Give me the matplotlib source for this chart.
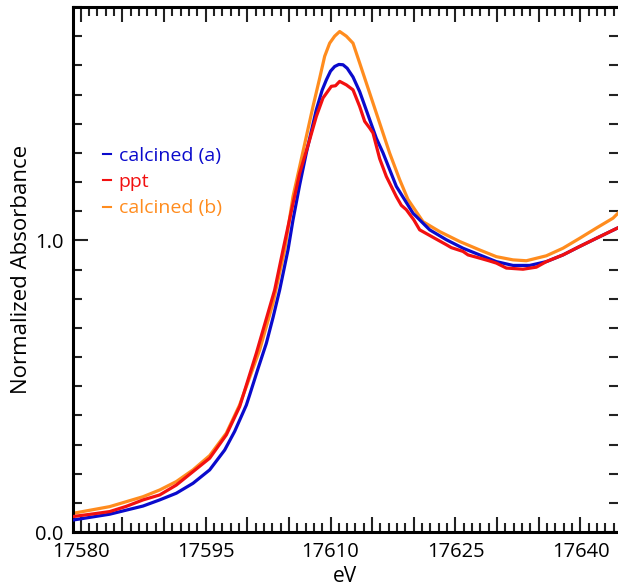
import matplotlib.pyplot as plt
from matplotlib.ticker import MultipleLocator, FuncFormatter

plt.rcParams['font.family'] = ['Open Sans', 'DejaVu Sans']

# calcined (a)
e_a = [17579.1, 17583.5, 17587.5, 17589.5, 17591.5, 17593.5, 17595.5, 17597.3,
       17598.5, 17599.9, 17600.3, 17601.3, 17602.3, 17603.1, 17603.9, 17604.9,
       17605.5, 17606.3, 17607.1, 17608.3, 17609.0, 17609.5, 17610.0, 17610.5,
       17611.0, 17611.5, 17612.0, 17612.7, 17613.5, 17614.5, 17615.5, 17616.3,
       17617.9, 17619.9, 17621.9, 17623.9, 17625.9, 17627.9, 17629.9, 17631.9,
       17633.9, 17635.9, 17637.9, 17639.9, 17641.9, 17644.5]
mu_a = [0.041, 0.061, 0.089, 0.110, 0.133, 0.167, 0.213, 0.281,
        0.345, 0.435, 0.470, 0.560, 0.647, 0.735, 0.830, 0.967,
        1.070, 1.190, 1.300, 1.448, 1.515, 1.550, 1.580, 1.596,
        1.603, 1.602, 1.590, 1.560, 1.510, 1.430, 1.350, 1.300,
        1.185, 1.093, 1.036, 1.002, 0.973, 0.950, 0.927, 0.914,
        0.914, 0.927, 0.950, 0.979, 1.007, 1.043]

# ppt
e_p = [17579.1, 17581.5, 17583.5, 17585.5, 17587.5, 17589.5, 17591.5, 17593.5,
       17595.5, 17597.5, 17599.1, 17601.1, 17603.3, 17604.3, 17605.3, 17606.3,
       17607.5, 17608.3, 17609.1, 17610.1, 17610.6, 17611.1, 17611.9, 17612.7,
       17613.5, 17614.1, 17614.7, 17615.1, 17615.9, 17616.7, 17617.9, 17618.5,
       17619.1, 17620.0, 17620.7, 17621.7, 17622.7, 17623.9, 17624.5, 17625.9,
       17626.5, 17627.9, 17629.0, 17629.9, 17631.1, 17633.1, 17634.7, 17635.9,
       17637.9, 17639.9, 17641.9, 17644.5]
mu_p = [0.053, 0.062, 0.070, 0.088, 0.110, 0.127, 0.161, 0.207,
        0.253, 0.333, 0.430, 0.613, 0.830, 0.967, 1.100, 1.230,
        1.345, 1.425, 1.488, 1.528, 1.530, 1.545, 1.533, 1.516,
        1.459, 1.408, 1.385, 1.368, 1.280, 1.219, 1.150, 1.120,
        1.105, 1.070, 1.036, 1.020, 1.004, 0.985, 0.975, 0.962,
        0.950, 0.939, 0.930, 0.922, 0.905, 0.901, 0.908, 0.927,
        0.950, 0.979, 1.007, 1.043]

# calcined (b)
e_b = [17579.1, 17583.5, 17587.5, 17589.5, 17591.5, 17593.5, 17595.5, 17597.5,
       17599.1, 17601.5, 17603.1, 17604.5, 17605.5, 17606.3, 17607.1, 17607.9,
       17608.7, 17609.3, 17609.9, 17610.5, 17611.1, 17611.9, 17612.7, 17613.5,
       17614.7, 17615.9, 17617.1, 17618.3, 17619.3, 17621.1, 17623.1, 17625.5,
       17627.9, 17629.9, 17631.9, 17633.5, 17635.9, 17637.9, 17639.9, 17641.9,
       17643.9, 17644.5]
mu_b = [0.064, 0.087, 0.121, 0.144, 0.173, 0.213, 0.262, 0.339,
        0.436, 0.624, 0.785, 0.967, 1.150, 1.253, 1.356, 1.459,
        1.556, 1.631, 1.676, 1.700, 1.716, 1.700, 1.676, 1.608,
        1.505, 1.402, 1.299, 1.208, 1.140, 1.064, 1.030, 0.996,
        0.967, 0.944, 0.933, 0.930, 0.947, 0.973, 1.007, 1.042,
        1.076, 1.093]

fig = plt.figure(figsize=(6.18, 5.88), dpi=100)
ax = fig.add_axes([73 / 618, 56 / 588, 545 / 618, 525 / 588])

lw = 2.3
ax.plot(e_a, mu_a, color='#0a0acc', lw=lw, label='calcined (a)', zorder=3)
ax.plot(e_p, mu_p, color='#f21010', lw=lw, label='ppt', zorder=4)
ax.plot(e_b, mu_b, color='#ff8c1e', lw=lw, label='calcined (b)', zorder=2)

ax.set_xlim(17579.1, 17644.5)
ax.set_ylim(0, 1.8)

ax.xaxis.set_major_locator(MultipleLocator(5))
ax.xaxis.set_minor_locator(MultipleLocator(1))
ax.xaxis.set_major_formatter(FuncFormatter(
    lambda v, p: f"{v:.0f}" if round(v - 17580) % 15 == 0 else ""))
ax.yaxis.set_major_locator(MultipleLocator(1.0))
ax.yaxis.set_minor_locator(MultipleLocator(0.1))
ax.yaxis.set_major_formatter(FuncFormatter(lambda v, p: f"{v:.1f}"))

ax.tick_params(which='both', direction='in', top=True, right=True,
               width=1.5, color='#222222', labelsize=14.5)
ax.tick_params(which='major', length=10.8, pad=7)
ax.tick_params(which='minor', length=6.5)

for side in ['left', 'top', 'bottom']:
    ax.spines[side].set_linewidth(2.2)
ax.spines['right'].set_visible(False)

ax.set_xlabel('eV', fontsize=15, labelpad=3)
ax.set_ylabel('Normalized Absorbance', fontsize=16, labelpad=2)

leg = ax.legend(loc='upper left', bbox_to_anchor=(0.055, 0.734), frameon=False,
                borderpad=0, borderaxespad=0, handlelength=0.4,
                handletextpad=0.4, labelspacing=0.43, fontsize=14,
                labelcolor='linecolor')
for ln in leg.get_lines():
    ln.set_linewidth(1.5)

fig.savefig('out.png', dpi=100)
